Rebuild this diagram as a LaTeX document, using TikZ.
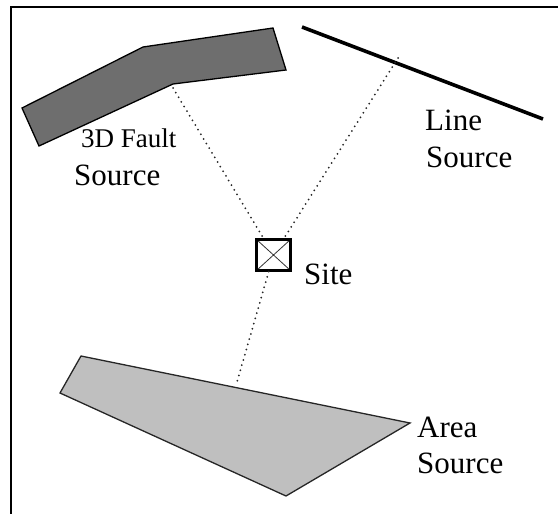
\documentclass[tikz,border=0pt]{standalone}
\usepackage{fontspec}
\setmainfont{Liberation Serif}
\usetikzlibrary{calc}

\begin{document}
\begin{tikzpicture}[
  x=1pt, y=-1pt,
  frame/.style={draw=black, line width=2pt},
  faultsrc/.style={draw=black, line width=1.3pt, fill=black!57, line join=miter},
  areasrc/.style={draw=black!85, line width=1.3pt, fill=black!25, line join=miter},
  linesrc/.style={draw=black, line width=3.6pt},
  site/.style={rectangle, draw=black, line width=2.4pt, minimum width=34pt, minimum height=31pt, inner sep=0pt,
    path picture={\draw[line width=0.8pt, black!80]
      (path picture bounding box.north west) -- (path picture bounding box.south east)
      (path picture bounding box.north east) -- (path picture bounding box.south west);}},
  dots/.style={draw=black!85, line width=2pt, line cap=round, dash pattern=on 0pt off 5.4pt},
  lbl/.style={font=\fontsize{31}{31}\selectfont, inner sep=0pt, anchor=base west, text=black}
]
  \useasboundingbox (0,0) rectangle (558,514);

  % Frame (only top and left edges in view)
  \draw[frame] (11,514) -- (11,7) -- (558,7);

  % 3D fault source
  \draw[faultsrc] (22,108) -- (143,47) -- (273,28) -- (286,70) -- (173,84) -- (39,146) -- cycle;
  \coordinate (faultpt) at (173,88);

  % Line source
  \draw[linesrc] (302,27) -- (543,119);
  \coordinate (linept) at (398,58);

  % Area source
  \draw[areasrc] (81,356) -- (410,423) -- (286,496) -- (60,393) -- cycle;
  \coordinate (areapt) at (237,382);

  % Site
  \node[site] (site) at (273.5,255) {};

  % Source-to-site paths
  \draw[dots] (faultpt) -- (site);
  \draw[dots] (linept) -- (site);
  \draw[dots] (site) -- (areapt);

  % Labels
  \node[lbl, font=\fontsize{27}{27}\selectfont] (faulttxt) at (81,147) {3D Fault};
  \node[lbl] (faultsrctxt) at (74,185) {Source};
  \node[lbl] (linetxt) at (425,130) {Line};
  \node[lbl] (linesrctxt) at (426,167) {Source};
  \node[lbl] (sitetxt) at (304,284) {Site};
  \node[lbl] (areatxt) at (417,437) {Area};
  \node[lbl] (areasrctxt) at (417,473) {Source};

\end{tikzpicture}
\end{document}
